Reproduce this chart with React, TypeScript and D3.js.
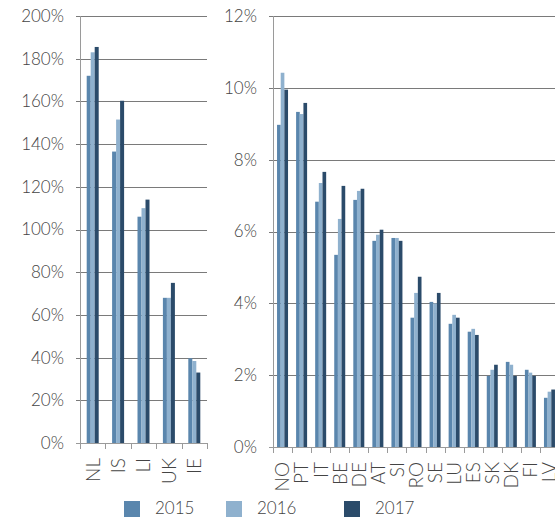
import React from "react";
import * as d3 from "d3";

const years = ["2015", "2016", "2017"];
const colors = ["#5a86ad", "#8fb1ce", "#2b4b6a"];

const leftCats = ["NL", "IS", "LI", "UK", "IE"];
const left2015 = [172, 136.5, 106, 68, 39.7];
const left2016 = [183, 151.5, 110, 68, 38.4];
const left2017 = [185.5, 160.3, 114, 75, 33];
const leftTicks = [0, 20, 40, 60, 80, 100, 120, 140, 160, 180, 200];

const rightCats = ["NO", "PT", "IT", "BE", "DE", "AT", "SI", "RO", "SE", "LU", "ES", "SK", "DK", "FI", "LV"];
const right2015 = [8.97, 9.33, 6.83, 5.35, 6.88, 5.74, 5.82, 3.6, 4.04, 3.43, 3.21, 1.98, 2.37, 2.15, 1.37];
const right2016 = [10.42, 9.27, 7.35, 6.35, 7.13, 5.91, 5.82, 4.29, 4.0, 3.68, 3.29, 2.15, 2.29, 2.07, 1.54];
const right2017 = [9.95, 9.58, 7.66, 7.27, 7.19, 6.05, 5.74, 4.74, 4.29, 3.6, 3.12, 2.29, 1.98, 1.98, 1.6];
const rightTicks = [0, 2, 4, 6, 8, 10, 12];

const FONT = "Lato, 'Open Sans', 'DejaVu Sans', sans-serif";

type PanelProps = {
  cats: string[];
  series: number[][];
  ticks: number[];
  max: number;
  x0: number;
  x1: number;
  yTop: number;
  yBottom: number;
  gridRight: number;
  groupW: number;
  labelGap: number;
};

function Panel(p: PanelProps) {
  const x = d3.scaleBand<string>().domain(p.cats).range([p.x0, p.x1]).padding(0);
  const y = d3.scaleLinear().domain([0, p.max]).range([p.yBottom, p.yTop]);
  const inner = d3.scaleBand<string>().domain(years).range([0, p.groupW]).padding(0);
  const boundaries = p.cats.map((c) => x(c) as number).concat([p.x1]);
  return (
    <g>
      {p.ticks.map((t) => (
        <g key={t}>
          {t > 0 && (
            <line x1={p.x0 - 4} x2={p.gridRight} y1={Math.round(y(t)) + 0.5} y2={Math.round(y(t)) + 0.5} stroke="#7a7a7a" strokeWidth={1} />
          )}
          <text x={p.x0 - 16} y={y(t)} dy="0.35em" textAnchor="end" fontSize={17} fill="#444" fontFamily={FONT} fontWeight={300}>
            {t}%
          </text>
        </g>
      ))}
      {p.cats.map((c, i) => (
        <g key={c}>
          {p.series.map((s, k) => {
            const bx = (x(c) as number) + (x.bandwidth() - p.groupW) / 2 + (inner(years[k]) as number);
            return (
              <rect key={k} x={bx} y={y(s[i])} width={inner.bandwidth()} height={p.yBottom - y(s[i])} fill={colors[k]} />
            );
          })}
        </g>
      ))}
      <line x1={p.x0 + 0.5} x2={p.x0 + 0.5} y1={p.yTop} y2={p.yBottom} stroke="#9a9a9a" strokeWidth={1} />
      <line x1={p.x0 - 4} x2={p.gridRight} y1={Math.round(p.yBottom) + 0.5} y2={Math.round(p.yBottom) + 0.5} stroke="#9a9a9a" strokeWidth={1} />
      {boundaries.map((b, i) => (
        <line key={i} x1={Math.round(b) + 0.5} x2={Math.round(b) + 0.5} y1={p.yBottom} y2={p.yBottom + 6} stroke="#9a9a9a" strokeWidth={1} />
      ))}
      {p.cats.map((c) => {
        const cx = (x(c) as number) + x.bandwidth() / 2;
        const ty = p.yBottom + p.labelGap;
        return (
          <text key={c} transform={`translate(${cx},${ty}) rotate(-90)`} textAnchor="end" dy="0.36em" fontSize={19} fill="#444" fontFamily={FONT} fontWeight={300}>
            {c}
          </text>
        );
      })}
    </g>
  );
}

export default function App() {
  return (
    <svg width={555} height={517} style={{ position: "absolute", left: 0, top: 0, background: "#fff" }}>
      <Panel
        cats={leftCats}
        series={[left2015, left2016, left2017]}
        ticks={leftTicks}
        max={200}
        x0={80}
        x1={207}
        yTop={16}
        yBottom={443}
        gridRight={207}
        groupW={12}
        labelGap={15}
      />
      <Panel
        cats={rightCats}
        series={[right2015, right2016, right2017]}
        ticks={rightTicks}
        max={12}
        x0={273}
        x1={559}
        yTop={16}
        yBottom={447}
        gridRight={555}
        groupW={11}
        labelGap={15}
      />
      {years.map((yr, k) => {
        const lx = [124, 226, 344][k];
        return (
          <g key={yr}>
            <rect x={lx} y={501} width={16} height={16} fill={colors[k]} />
            <text x={lx + 31} y={514} fontSize={17} fill="#444" fontFamily={FONT} fontWeight={300}>
              {yr}
            </text>
          </g>
        );
      })}
    </svg>
  );
}
